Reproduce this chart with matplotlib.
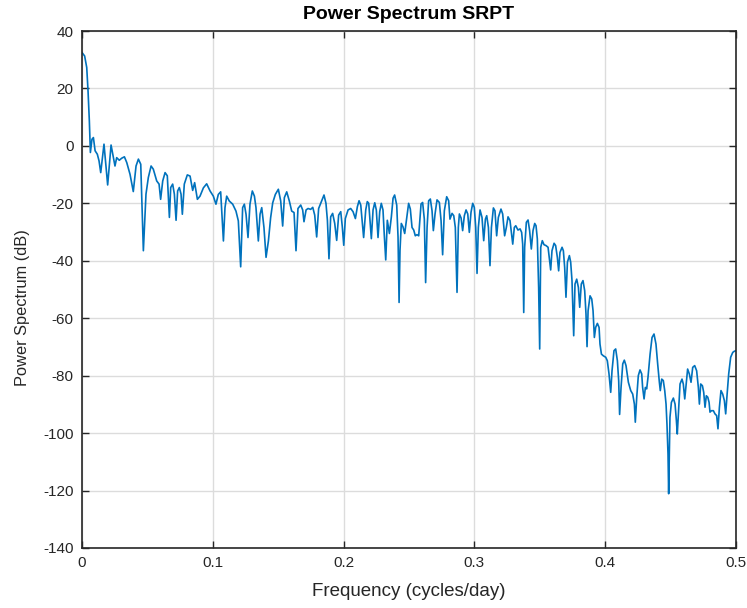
import matplotlib
matplotlib.use("Agg")
import matplotlib.pyplot as plt
import numpy as np

# Power spectrum of the SRPT series, (frequency in cycles/day, power in dB)
low_band = [
    (0.0000, 32.5), (0.0020, 31.3), (0.0036, 27.3), (0.0046, 19.1), (0.0056, 8.7),
    (0.0064, -2.3), (0.0076, 2.3), (0.0087, 2.9), (0.0100, -1.7), (0.0117, -2.9),
    (0.0130, -5.2), (0.0143, -9.3), (0.0168, 0.6), (0.0196, -13.6), (0.0222, 0.3),
    (0.0252, -7.0), (0.0265, -4.1), (0.0285, -5.0), (0.0303, -4.3), (0.0324, -3.8),
    (0.0342, -5.8), (0.0367, -9.9), (0.0392, -15.9), (0.0413, -7.0), (0.0431, -4.6),
    (0.0449, -6.4), (0.0469, -36.5), (0.0489, -16.8), (0.0507, -11.0), (0.0528, -7.0),
    (0.0545, -8.1), (0.0571, -12.2), (0.0589, -13.3), (0.0601, -18.6), (0.0617, -12.2),
    (0.0635, -9.3), (0.0652, -10.4), (0.0668, -24.9), (0.0678, -14.5), (0.0693, -13.3),
    (0.0706, -16.8), (0.0719, -25.9), (0.0731, -15.7), (0.0744, -14.5), (0.0757, -16.8),
    (0.0767, -23.8), (0.0782, -13.3), (0.0805, -10.1),
]

lower_mid_band = [
    (0.0826, -10.5), (0.0846, -15.5), (0.0861, -12.8), (0.0882, -18.6), (0.0902, -17.5),
    (0.0928, -14.6), (0.0953, -13.2), (0.0979, -15.7), (0.1004, -17.5), (0.1024, -20.3),
    (0.1042, -16.9), (0.1060, -16.0), (0.1081, -33.1), (0.1093, -21.5), (0.1106, -17.5),
    (0.1126, -19.2), (0.1152, -20.3), (0.1177, -22.7), (0.1195, -26.1), (0.1213, -42.1),
    (0.1228, -21.5), (0.1241, -20.3), (0.1254, -23.8), (0.1269, -31.9), (0.1284, -20.3),
    (0.1302, -15.7), (0.1318, -17.5), (0.1330, -21.5), (0.1348, -33.1), (0.1361, -23.8),
    (0.1374, -21.5), (0.1391, -28.4), (0.1407, -38.8), (0.1425, -33.1), (0.1442, -25.0),
    (0.1458, -19.8), (0.1478, -16.9), (0.1501, -15.1), (0.1519, -19.2), (0.1534, -27.9),
    (0.1547, -18.0), (0.1565, -16.0), (0.1585, -19.2), (0.1603, -22.7), (0.1621, -23.2),
    (0.1636, -36.5),
]

mid_band = [
    (0.1651, -21.8), (0.1672, -20.6), (0.1687, -22.3), (0.1697, -26.4), (0.1713, -22.3),
    (0.1728, -21.8), (0.1748, -22.1), (0.1764, -21.4), (0.1779, -24.1), (0.1794, -31.7),
    (0.1809, -21.8), (0.1830, -19.4), (0.1850, -17.1), (0.1865, -20.0), (0.1876, -25.9),
    (0.1888, -39.3), (0.1901, -24.7), (0.1916, -23.5), (0.1932, -27.0), (0.1947, -32.9),
    (0.1962, -24.1), (0.1978, -22.9), (0.1990, -28.2), (0.2001, -34.6), (0.2013, -25.3),
    (0.2034, -22.3), (0.2054, -21.8), (0.2072, -22.9), (0.2090, -25.3), (0.2105, -21.2),
    (0.2118, -19.1), (0.2131, -20.6), (0.2143, -27.0), (0.2153, -31.9), (0.2169, -22.3),
    (0.2181, -19.4), (0.2192, -20.0), (0.2202, -25.9), (0.2212, -32.3), (0.2225, -22.3),
    (0.2238, -19.8), (0.2250, -22.3), (0.2263, -31.9), (0.2276, -22.9), (0.2288, -20.0),
    (0.2301, -22.3), (0.2311, -31.1), (0.2322, -39.7), (0.2334, -25.9), (0.2350, -30.5),
    (0.2365, -24.7), (0.2378, -18.2), (0.2390, -17.1), (0.2406, -20.6), (0.2416, -31.7),
    (0.2424, -54.5), (0.2431, -36.4), (0.2441, -27.0), (0.2454, -28.2), (0.2467, -30.5),
]

upper_mid_band = [
    (0.2497, -20.0), (0.2510, -22.0), (0.2523, -28.4), (0.2536, -29.3), (0.2548, -31.3),
    (0.2561, -30.9), (0.2574, -31.3), (0.2592, -20.2), (0.2604, -19.7), (0.2617, -25.5),
    (0.2627, -47.6), (0.2638, -28.4), (0.2650, -19.1), (0.2663, -18.5), (0.2676, -22.6),
    (0.2686, -29.5), (0.2699, -23.7), (0.2714, -18.8), (0.2732, -19.7), (0.2745, -26.0),
    (0.2757, -37.9), (0.2770, -22.6), (0.2788, -17.7), (0.2803, -19.1), (0.2813, -25.5),
    (0.2829, -23.5), (0.2842, -24.3), (0.2854, -28.4), (0.2867, -51.0), (0.2877, -28.4),
    (0.2885, -23.7), (0.2898, -25.1), (0.2910, -29.5), (0.2923, -24.3), (0.2936, -22.3),
    (0.2949, -23.7), (0.2961, -30.1), (0.2974, -23.1), (0.2987, -20.0), (0.2999, -21.4),
    (0.3010, -28.4), (0.3020, -44.4), (0.3030, -28.4), (0.3043, -22.3), (0.3058, -24.9),
    (0.3071, -33.0), (0.3084, -25.5), (0.3094, -24.3), (0.3107, -28.4), (0.3119, -41.7),
    (0.3130, -28.4), (0.3145, -21.6), (0.3157, -22.6), (0.3170, -31.3), (0.3183, -24.9),
    (0.3203, -22.0), (0.3216, -23.7), (0.3231, -31.3), (0.3244, -28.4), (0.3257, -24.7),
    (0.3272, -26.0), (0.3293, -34.2), (0.3305, -28.4),
]

rolloff_band = [
    (0.3316, -27.8), (0.3333, -29.3), (0.3349, -28.9), (0.3361, -30.1), (0.3369, -34.2),
    (0.3377, -58.0), (0.3384, -35.3), (0.3397, -26.6), (0.3410, -25.8), (0.3422, -29.5),
    (0.3435, -35.9), (0.3448, -29.5), (0.3461, -27.0), (0.3471, -27.8), (0.3481, -32.4),
    (0.3491, -49.3), (0.3499, -70.7), (0.3507, -35.3), (0.3519, -33.0), (0.3532, -34.4),
    (0.3547, -34.7), (0.3563, -35.3), (0.3575, -40.0), (0.3583, -43.2), (0.3593, -36.5),
    (0.3609, -33.9), (0.3621, -34.7), (0.3634, -38.8), (0.3644, -43.5), (0.3654, -37.1),
    (0.3670, -35.3), (0.3680, -36.5), (0.3690, -42.3), (0.3700, -52.7), (0.3711, -40.5),
    (0.3726, -38.2), (0.3736, -40.5), (0.3746, -46.9), (0.3759, -66.1), (0.3769, -48.1),
    (0.3782, -46.4), (0.3795, -49.3), (0.3805, -56.2), (0.3817, -48.1), (0.3830, -46.9),
    (0.3843, -50.4), (0.3853, -58.5), (0.3861, -69.9), (0.3869, -57.4), (0.3884, -52.2),
    (0.3897, -53.3), (0.3907, -57.4), (0.3917, -66.7), (0.3927, -63.2), (0.3940, -61.8),
    (0.3953, -63.2), (0.3960, -69.0), (0.3971, -72.5), (0.3986, -73.1), (0.4004, -73.6),
    (0.4016, -74.8), (0.4029, -79.4), (0.4042, -85.8), (0.4052, -78.3), (0.4067, -71.3),
    (0.4080, -70.7), (0.4093, -74.8), (0.4103, -81.8), (0.4110, -93.5),
]

high_band = [
    (0.4121, -84.1), (0.4134, -75.9), (0.4146, -74.6), (0.4159, -76.5), (0.4177, -82.3),
    (0.4195, -85.2), (0.4210, -86.4), (0.4223, -89.9), (0.4230, -96.2), (0.4241, -87.5),
    (0.4253, -80.0), (0.4266, -78.0), (0.4279, -79.4), (0.4286, -84.1), (0.4297, -88.1),
    (0.4307, -84.1), (0.4317, -84.6), (0.4327, -80.6), (0.4343, -72.5), (0.4358, -66.7),
    (0.4373, -65.5), (0.4388, -69.0), (0.4401, -75.9), (0.4414, -82.3), (0.4421, -85.2),
    (0.4432, -81.2), (0.4444, -81.7), (0.4455, -85.2), (0.4465, -89.9), (0.4472, -96.8),
    (0.4480, -107.2), (0.4485, -121.1), (0.4490, -107.2), (0.4495, -94.5), (0.4506, -89.3),
    (0.4521, -87.8), (0.4534, -89.9), (0.4544, -95.6), (0.4551, -100.3), (0.4562, -91.0),
    (0.4572, -82.9), (0.4587, -81.2), (0.4597, -82.9), (0.4608, -88.1), (0.4618, -83.5),
    (0.4630, -77.7), (0.4643, -79.4), (0.4656, -82.3), (0.4669, -77.1), (0.4684, -76.5),
    (0.4699, -78.3), (0.4712, -84.1), (0.4720, -89.9), (0.4730, -82.9), (0.4743, -83.5),
    (0.4753, -85.8), (0.4763, -91.0), (0.4773, -87.0), (0.4784, -87.5), (0.4794, -89.3),
    (0.4801, -92.7), (0.4812, -92.2), (0.4827, -92.2), (0.4839, -93.3), (0.4852, -93.9),
    (0.4862, -98.5), (0.4873, -91.0), (0.4885, -85.2), (0.4898, -86.4), (0.4911, -88.7),
    (0.4921, -93.3), (0.4931, -87.0), (0.4944, -79.4), (0.4959, -73.6), (0.4975, -71.9),
    (0.4987, -71.5), (0.5000, -71.3),
]

x_ticks = [0, 0.1, 0.2, 0.3, 0.4, 0.5]
x_tick_labels = ["0", "0.1", "0.2", "0.3", "0.4", "0.5"]
y_ticks = list(range(-140, 41, 20))

spectrum = np.array(low_band + lower_mid_band + mid_band + upper_mid_band
                     + rolloff_band + high_band)
freq = spectrum[:, 0]
power_db = spectrum[:, 1]

plt.rcParams["font.family"] = ["Liberation Sans", "DejaVu Sans"]
plt.rcParams["axes.unicode_minus"] = False
axis_color = "#262626"

fig = plt.figure(figsize=(7.47, 6.08), dpi=100)
ax = fig.add_axes([0.1098, 0.0987, 0.8755, 0.8503])

ax.plot(freq, power_db, color="#0072BD", linewidth=1.2)

ax.set_xlim(0, 0.5)
ax.set_ylim(-140, 40)
ax.set_xticks(x_ticks)
ax.set_xticklabels(x_tick_labels)
ax.set_yticks(y_ticks)

ax.grid(True, color="#dcdcdc", linewidth=1.0)
ax.set_axisbelow(True)
for spine in ax.spines.values():
    spine.set_color(axis_color)
    spine.set_linewidth(1.2)
ax.tick_params(direction="in", top=True, right=True, length=5, width=1.0,
               colors=axis_color, labelsize=11, pad=6)

ax.set_title("Power Spectrum SRPT", fontsize=14, fontweight="bold", color="black", pad=9)
ax.set_xlabel("Frequency (cycles/day)", fontsize=13.5, color=axis_color, labelpad=9)
ax.set_ylabel("Power Spectrum (dB)", fontsize=11.8, color=axis_color)
ax.yaxis.set_label_coords(-0.079, 0.465)

fig.savefig("out.png", dpi=100)
